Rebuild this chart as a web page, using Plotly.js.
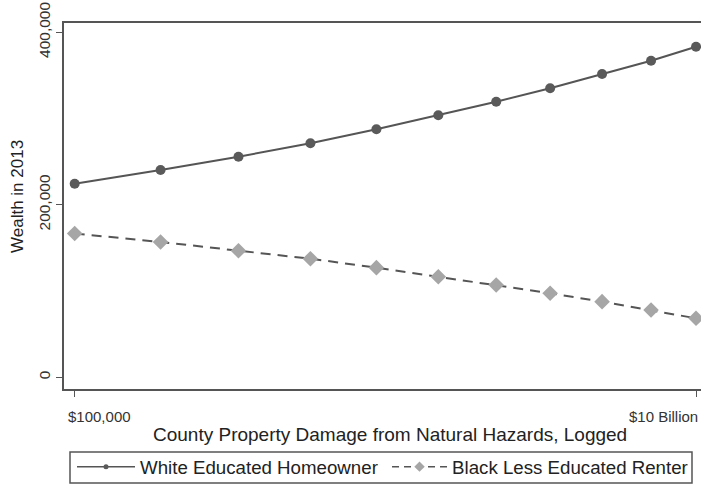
<!DOCTYPE html>
<html>
<head>
<meta charset="utf-8">
<script src="https://cdn.plot.ly/plotly-3.0.1.min.js"></script>
<style>html,body{margin:0;padding:0;background:#fff;}#chart{width:701px;height:485px;}</style>
</head>
<body>
<div id="chart"></div>
<script>
// Log10 of county property damage (x positions of the 11 evaluated points)
const damageLog = [5, 5.691, 6.318, 6.897, 7.428, 7.926, 8.392, 8.826, 9.244, 9.638, 10];
const whiteEducatedHomeowner = [224500, 240300, 255800, 271300, 287500, 303800, 319500, 335100, 351700, 367100, 383300];
const blackLessEducatedRenter = [166700, 156900, 146800, 137500, 127100, 116600, 107000, 97400, 87700, 78000, 68400];
const seriesNames = ['White Educated Homeowner', 'Black Less Educated Renter'];
const xTickVals = [5, 10];
const xTickText = ['$100,000', '$10 Billion'];
const yTickVals = [0, 200000, 400000];
const yTickText = ['0', '200,000', '400,000'];
const xTitle = 'County Property Damage from Natural Hazards, Logged';
const yTitle = 'Wealth in 2013';

const FONT = 'Liberation Sans, Arial, sans-serif';
const AX = '#555555';
const DASH = '10px,7px';

const traces = [
  {
    x: damageLog, y: whiteEducatedHomeowner, name: seriesNames[0], showlegend: false,
    type: 'scatter', mode: 'lines+markers',
    line: {color: '#555555', width: 2},
    marker: {symbol: 'circle', size: 10, color: '#5a5a5a'}
  },
  {
    x: damageLog, y: blackLessEducatedRenter, name: seriesNames[1], showlegend: false,
    type: 'scatter', mode: 'lines+markers',
    line: {color: '#555555', width: 2, dash: DASH},
    marker: {symbol: 'diamond', size: 12, color: '#a6a6a6'}
  },
  // legend keys (no data points, they only set the small legend symbols)
  {
    x: [null], y: [null], name: seriesNames[0], type: 'scatter', mode: 'lines+markers',
    line: {color: '#555555', width: 1.5},
    marker: {symbol: 'circle', size: 5, color: '#5a5a5a'},
    legend: 'legend'
  },
  {
    x: [null], y: [null], name: seriesNames[1], type: 'scatter', mode: 'lines+markers',
    line: {color: '#555555', width: 1.5, dash: '7px,5px'},
    marker: {symbol: 'diamond', size: 8, color: '#a6a6a6'},
    legend: 'legend2'
  }
];

const annotations = xTickVals.map((v, i) => ({
  x: v, xref: 'x', y: 0, yref: 'paper', yshift: -17,
  text: xTickText[i], showarrow: false,
  xanchor: i === 0 ? 'left' : 'right', yanchor: 'top',
  xshift: i === 0 ? -9 : 4,
  font: {family: FONT, size: 15, color: '#333'}
}));
annotations.push({
  x: 0.511, xref: 'paper', y: 0, yref: 'paper', yshift: -33,
  text: xTitle, showarrow: false,
  xanchor: 'center', yanchor: 'top',
  font: {family: FONT, size: 19, color: '#222'}
});
annotations.push({
  x: -0.0738, xref: 'paper', y: 0.5273, yref: 'paper',
  text: yTitle, showarrow: false, textangle: -90,
  xanchor: 'center', yanchor: 'middle',
  font: {family: FONT, size: 17, color: '#222'}
});

const legendBase = {
  orientation: 'h', xanchor: 'left', y: -0.1612, yanchor: 'top',
  borderwidth: 0, bgcolor: 'rgba(0,0,0,0)',
  font: {family: FONT, size: 18.7, color: '#222'}
};

const layout = {
  width: 701, height: 485,
  margin: {l: 64, r: 0, t: 23, b: 96, autoexpand: false},
  paper_bgcolor: '#fff', plot_bgcolor: '#fff',
  showlegend: true,
  legend: Object.assign({}, legendBase, {x: 0.01256, itemwidth: 58}),
  legend2: Object.assign({}, legendBase, {x: 0.5071, itemwidth: 55}),
  shapes: [{
    type: 'rect', xref: 'paper', yref: 'paper',
    x0: 0.00942, x1: 0.98587, y0: -0.17213, y1: -0.25683,
    line: {color: AX, width: 1.5}, fillcolor: 'rgba(0,0,0,0)'
  }],
  xaxis: {
    range: [4.914, 10.04], showgrid: false, zeroline: false,
    showline: true, linecolor: AX, linewidth: 2, mirror: true,
    tickvals: xTickVals, ticks: 'outside', ticklen: 6, tickwidth: 1, tickcolor: AX,
    showticklabels: false
  },
  yaxis: {
    range: [-13565, 410775], showgrid: false, zeroline: false,
    showline: true, linecolor: AX, linewidth: 2,
    tickvals: yTickVals, ticktext: yTickText, ticks: 'outside', ticklen: 6, tickwidth: 1, tickcolor: AX,
    tickangle: -90, tickfont: {family: FONT, size: 15.5, color: '#333'}
  },
  annotations: annotations
};

Plotly.newPlot('chart', traces, layout, {displayModeBar: false, staticPlot: true});
</script>
</body>
</html>
